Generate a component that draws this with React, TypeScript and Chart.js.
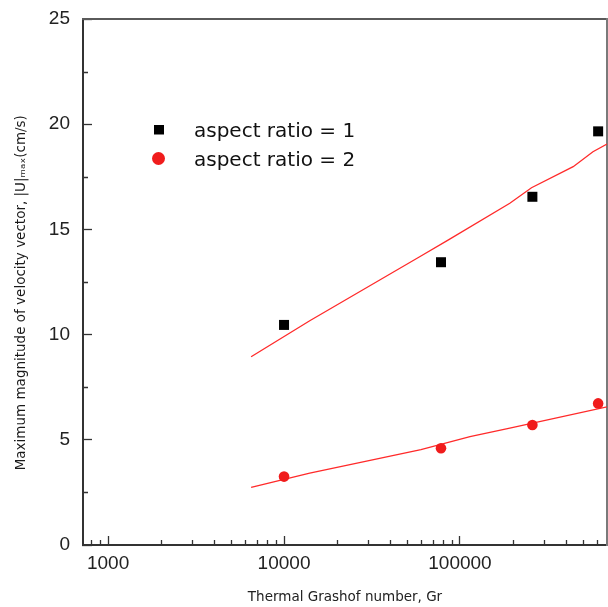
import React, { useEffect, useRef } from 'react';
import { Chart, registerables } from 'chart.js';

Chart.register(...registerables);

// ---- data ----
const grashofAR1 = [10000, 78000, 258000, 610000];
const velocityAR1 = [10.46, 13.44, 16.55, 19.66];
const grashofAR2 = [10000, 78000, 258000, 610000];
const velocityAR2 = [3.25, 4.6, 5.7, 6.73];
const fitAR1X = [6500, 14000, 59000, 86000, 192000, 255000, 440000, 570000, 685000];
const fitAR1Y = [8.95, 10.66, 13.7, 14.5, 16.24, 16.98, 17.98, 18.69, 19.06];
const fitAR2X = [6500, 14000, 60000, 114000, 192000, 685000];
const fitAR2Y = [2.74, 3.42, 4.53, 5.15, 5.55, 6.57];

const legendLabels = ['aspect ratio = 1', 'aspect ratio = 2'];
const xTitle = 'Thermal Grashof number, Gr';
const yTitle = 'Maximum magnitude of velocity vector, |U|\u2098\u2090\u2093(cm/s)     ';

const xMin = 720;
const xMax = 685000;
const yMin = 0;
const yMax = 25;
const yStep = 5;
const xMajorTicks = [1000, 10000, 100000];
const xMinorTicks = [
  800, 900,
  2000, 3000, 4000, 5000, 6000, 7000, 8000, 9000,
  20000, 30000, 40000, 50000, 60000, 70000, 80000, 90000,
  200000, 300000, 400000, 500000, 600000,
];
const yMinorTicks = [2.5, 7.5, 12.5, 17.5, 22.5];

const toPoints = (xs: number[], ys: number[]) => xs.map((x, i) => ({ x, y: ys[i] }));

function makeMarker(kind: 'rect' | 'circle', color: string, size: number, lift: number) {
  const c = document.createElement('canvas');
  c.width = size;
  c.height = size + 2 * lift;
  const g = c.getContext('2d')!;
  g.fillStyle = color;
  if (kind === 'rect') {
    g.fillRect(0, 0, size, size);
  } else {
    g.beginPath();
    g.arc(size / 2, size / 2, size / 2, 0, Math.PI * 2);
    g.fill();
  }
  return c;
}

const legendPlacer = {
  id: 'legendPlacer',
  afterLayout(chart: any) {
    const lg = chart.legend;
    if (!lg) return;
    const ca = chart.chartArea;
    const w = lg.width;
    lg.left = ca.left + 41;
    lg.top = ca.top + 94;
    lg.right = lg.left + w;
    lg.bottom = lg.top + 200;
  },
};

const minorTicks = {
  id: 'minorTicks',
  afterDraw(chart: any) {
    const { ctx, chartArea: ca } = chart;
    const x = chart.scales.x;
    const y = chart.scales.y;
    ctx.save();
    ctx.strokeStyle = '#333';
    ctx.lineWidth = 1.3;
    ctx.beginPath();
    xMinorTicks.forEach((v) => {
      const px = Math.round(x.getPixelForValue(v)) + 0.5;
      ctx.moveTo(px, ca.bottom);
      ctx.lineTo(px, ca.bottom - 5);
    });
    yMinorTicks.forEach((v) => {
      const py = Math.round(y.getPixelForValue(v)) + 0.5;
      ctx.moveTo(ca.left, py);
      ctx.lineTo(ca.left + 5, py);
    });
    ctx.stroke();
    ctx.restore();
  },
};

const noPad = (scale: any) => {
  scale.paddingTop = 0;
  scale.paddingBottom = 0;
  scale.paddingLeft = 0;
  scale.paddingRight = 0;
};

export default function App() {
  const ref = useRef<HTMLCanvasElement | null>(null);

  useEffect(() => {
    if (!ref.current) return;
    const squareImg = makeMarker('rect', '#000000', 10, 2.5);
    const circleImg = makeMarker('circle', '#f01c1c', 13, 2.5);
    const tickFont = { family: '"Liberation Sans", Arial, sans-serif', size: 19 };
    const titleFont = { family: '"DejaVu Sans", sans-serif', size: 13.5 };

    const chart = new Chart(ref.current, {
      type: 'scatter',
      data: {
        datasets: [
          {
            label: legendLabels[0],
            data: toPoints(grashofAR1, velocityAR1),
            pointStyle: 'rect',
            pointRadius: 7.07,
            pointBorderWidth: 0,
            backgroundColor: '#000000',
            borderColor: '#000000',
            showLine: false,
          },
          {
            label: legendLabels[1],
            data: toPoints(grashofAR2, velocityAR2),
            pointStyle: 'circle',
            pointRadius: 5.3,
            pointBorderWidth: 0,
            backgroundColor: '#f01c1c',
            borderColor: '#f01c1c',
            showLine: false,
          },
          {
            label: 'fit 1',
            data: toPoints(fitAR1X, fitAR1Y),
            showLine: true,
            pointRadius: 0,
            borderColor: '#ff2a2a',
            borderWidth: 1.3,
            tension: 0,
          },
          {
            label: 'fit 2',
            data: toPoints(fitAR2X, fitAR2Y),
            showLine: true,
            pointRadius: 0,
            borderColor: '#ff2a2a',
            borderWidth: 1.3,
            tension: 0,
          },
        ],
      },
      options: {
        responsive: false,
        animation: false,
        layout: { padding: 0, autoPadding: false },
        plugins: {
          tooltip: { enabled: false },
          legend: {
            display: true,
            position: 'chartArea' as any,
            align: 'start',
            labels: {
              usePointStyle: true,
              pointStyleWidth: 51,
              boxHeight: 12,
              padding: 9,
              color: '#111',
              font: { family: '"DejaVu Sans", sans-serif', size: 20 },
              generateLabels: (ch: any) => {
                const items = (Chart.defaults.plugins.legend.labels as any)
                  .generateLabels(ch)
                  .filter((it: any) => it.datasetIndex < 2);
                items.forEach((it: any) => {
                  it.pointStyle = it.datasetIndex === 0 ? squareImg : circleImg;
                });
                return items;
              },
            },
          },
        },
        scales: {
          x: {
            type: 'logarithmic',
            position: 'bottom',
            min: xMin,
            max: xMax,
            afterBuildTicks: (scale: any) => {
              scale.ticks = xMajorTicks.map((v) => ({ value: v, major: true }));
            },
            afterFit: (scale: any) => {
              scale.height = 62;
              noPad(scale);
            },
            ticks: {
              autoSkip: false,
              maxRotation: 0,
              padding: 16,
              color: '#222',
              font: tickFont,
              callback: (v: any) => String(v),
            },
            grid: {
              drawOnChartArea: false,
              tickLength: -9,
              tickColor: '#333',
              tickWidth: 1.3,
            },
            border: { color: '#333', width: 2 },
            title: {
              display: true,
              text: xTitle,
              color: '#222',
              font: titleFont,
              padding: { top: 0, bottom: 1 },
            },
          },
          y: {
            type: 'linear',
            position: 'left',
            min: yMin,
            max: yMax,
            afterFit: (scale: any) => {
              scale.width = 83;
              noPad(scale);
            },
            ticks: {
              stepSize: yStep,
              padding: 22,
              color: '#222',
              font: tickFont,
            },
            grid: {
              drawOnChartArea: false,
              tickLength: -9,
              tickColor: '#333',
              tickWidth: 1.3,
            },
            border: { color: '#333', width: 2 },
            title: {
              display: true,
              text: yTitle,
              color: '#1a1a1a',
              font: titleFont,
              padding: { top: 13, bottom: 0 },
            },
          },
          xTop: {
            type: 'linear',
            position: 'top',
            afterFit: (scale: any) => {
              scale.height = 19;
              noPad(scale);
            },
            ticks: { display: false },
            grid: { drawOnChartArea: false, drawTicks: false },
            border: { color: '#5a5a5a', width: 2 },
          },
          yRight: {
            type: 'linear',
            position: 'right',
            afterFit: (scale: any) => {
              scale.width = 1;
              noPad(scale);
            },
            ticks: { display: false },
            grid: { drawOnChartArea: false, drawTicks: false },
            border: { color: '#7a7a7a', width: 2 },
          },
        },
      } as any,
      plugins: [legendPlacer, minorTicks],
    });
    return () => chart.destroy();
  }, []);

  return (
    <div style={{ position: 'absolute', left: 0, top: 0, width: 608, height: 607, background: '#fff' }}>
      <canvas ref={ref} width={608} height={607} style={{ display: 'block' }} />
    </div>
  );
}
